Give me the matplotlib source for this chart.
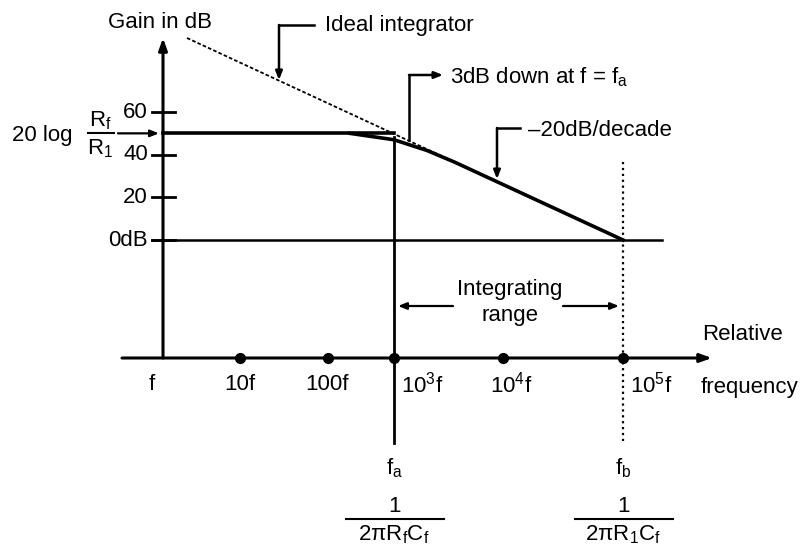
import numpy as np
import matplotlib.pyplot as plt

plt.rcParams['font.family'] = ['Liberation Sans', 'DejaVu Sans']
plt.rcParams['mathtext.fontset'] = 'custom'
plt.rcParams['mathtext.rm'] = 'Liberation Sans'
plt.rcParams['mathtext.it'] = 'Liberation Sans:italic'

# data
decades = [0, 1, 2, 3, 4, 5]
freq_mult = [1, 10, 100, 1e3, 1e4, 1e5]
freq_labels = ['f', '10f', '100f', r'$\mathregular{10^{3}f}$',
               r'$\mathregular{10^{4}f}$', r'$\mathregular{10^{5}f}$']
gain_ticks = [60, 40, 20, 0]
gain_tick_labels = ['60', '40', '20', '0dB']
flat_gain = 50          # 20 log Rf/R1
fa = 1e3
fb = 1e5
resp_f = [215, 1000, 2000, 3600, 1e5]
resp_db = [50, 47, 42, 36.5, 0]
ideal_f = [2.05, 1e5]
ideal_db = [94.7, 0]

# layout: the hand drawn frequency axis is not evenly spaced
dec_px = [163, 240, 328, 394, 503, 623]
knots_d = [-3] + decades + [7]
knots_px = [163 - 3 * 77] + dec_px + [623 + 2 * 120]
PX_PER_DB = 2.133
ZERO_PY = 240


def fwd(f):
    return np.interp(np.log10(np.clip(f, 1e-12, None)), knots_d, knots_px)


def inv(x):
    return 10 ** np.interp(x, knots_px, knots_d)


def at(px, py):
    return inv(px), (ZERO_PY - py) / PX_PER_DB


fig = plt.figure(figsize=(8.05, 5.49), dpi=100)
ax = fig.add_axes([0, 0, 1, 1])
ax.set_xscale('function', functions=(fwd, inv))
ax.set_xlim(inv(0), inv(805))
ax.set_ylim(at(0, 549)[1], at(0, 0)[1])
ax.axis('off')

FS = 16
axis_db = at(0, 358)[1]
arr = dict(color='k', shrinkA=0, shrinkB=0)

# gain axis
ax.annotate('', xy=(1, at(0, 38)[1]), xytext=(1, axis_db),
            arrowprops=dict(arrowstyle='-|>,head_length=0.7,head_width=0.25', lw=2.2, **arr))
ax.text(*at(160, 22), 'Gain in dB', ha='center', va='center', fontsize=FS)
for g, lab in zip(gain_ticks, gain_tick_labels):
    ax.plot([inv(152), inv(175)], [g, g], color='k', lw=2)
    ax.text(inv(148), g, lab, ha='right', va='center', fontsize=FS)
ax.plot([inv(152), inv(662)], [0, 0], color='k', lw=1.8)

# frequency axis
ax.annotate('', xy=(inv(712), axis_db), xytext=(inv(122), axis_db),
            arrowprops=dict(arrowstyle='-|>,head_length=0.7,head_width=0.25', lw=2.2, **arr))
ax.plot(freq_mult[1:], [axis_db] * 5, 'o', ms=7, color='k')
label_px = [152, 240, 327, 422, 511, 651]
for px, lab in zip(label_px, freq_labels):
    ax.text(*at(px, 385), lab, ha='center', va='center', fontsize=FS)
ax.text(*at(702, 334), 'Relative', ha='left', va='center', fontsize=FS)
ax.text(*at(701, 387), 'frequency', ha='left', va='center', fontsize=FS)

# response curves
ax.plot([1, fa], [flat_gain, flat_gain], color='k', lw=2.6)
ax.plot(resp_f, resp_db, color='k', lw=2.6)
ax.plot(ideal_f, ideal_db, color='k', lw=1.3, ls=(0, (2, 1.2)))

# corner frequency markers
ax.plot([fa, fa], [at(0, 137)[1], at(0, 443)[1]], color='k', lw=2)
ax.plot([fb, fb], [at(0, 162)[1], at(0, 443)[1]], color='k', lw=1.6, ls=':')
for f, sub, den in [(fa, 'a', r'$\mathregular{2πR_fC_f}$'), (fb, 'b', r'$\mathregular{2πR_1C_f}$')]:
    cx = fwd(f)
    ax.text(f, at(0, 468)[1], r'$\mathregular{f_%s}$' % sub, ha='center', va='center', fontsize=FS)
    ax.text(f, at(0, 506)[1], '1', ha='center', va='center', fontsize=FS)
    ax.plot([inv(cx - 48), inv(cx + 50)], [at(0, 519)[1]] * 2, color='k', lw=1.5)
    ax.text(f, at(0, 535)[1], den, ha='center', va='center', fontsize=FS)

# integrating range
ax.text(*at(510, 290), 'Integrating', ha='center', va='center', fontsize=FS)
ax.text(*at(510, 316), 'range', ha='center', va='center', fontsize=FS)
ax.annotate('', xy=at(398, 306), xytext=at(453, 306),
            arrowprops=dict(arrowstyle='-|>,head_length=0.5,head_width=0.2', lw=1.6, **arr))
ax.annotate('', xy=at(619, 306), xytext=at(563, 306),
            arrowprops=dict(arrowstyle='-|>,head_length=0.5,head_width=0.2', lw=1.6, **arr))

# 20 log Rf/R1 label
ax.text(*at(12, 135), '20 log', ha='left', va='center', fontsize=FS)
ax.text(*at(100, 121), r'$\mathregular{R_f}$', ha='center', va='center', fontsize=FS)
ax.text(*at(100, 149), r'$\mathregular{R_1}$', ha='center', va='center', fontsize=FS)
ax.plot([inv(88), inv(114)], [flat_gain, flat_gain], color='k', lw=1.5)
ax.annotate('', xy=(inv(159), flat_gain), xytext=(inv(118), flat_gain),
            arrowprops=dict(arrowstyle='-|>,head_length=0.5,head_width=0.2', lw=1.6, **arr))

# leaders
def leader(pts, text, tpos):
    xs = [at(*p)[0] for p in pts]
    ys = [at(*p)[1] for p in pts]
    ax.plot(xs[:-1], ys[:-1], color='k', lw=1.8)
    ax.annotate('', xy=(xs[-1], ys[-1]), xytext=(xs[-2], ys[-2]),
                arrowprops=dict(arrowstyle='-|>,head_length=0.5,head_width=0.2', lw=1.8, **arr))
    ax.text(*at(*tpos), text, ha='left', va='center', fontsize=FS)


leader([(314, 25), (279, 25), (279, 80)], 'Ideal integrator', (325, 25))
leader([(409, 140), (409, 75), (443, 75)], r'3dB down at f = $\mathregular{f_a}$', (450, 77))
leader([(520, 128), (497, 128), (497, 179)], '\u201320dB/decade', (528, 130))

fig.savefig('out.png', dpi=100)
